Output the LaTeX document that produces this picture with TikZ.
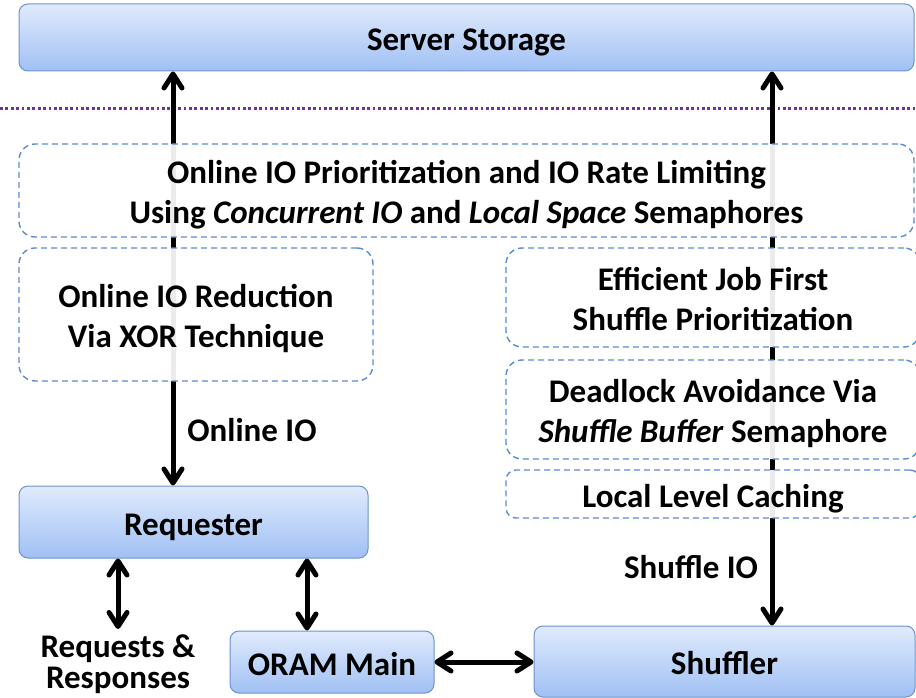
\documentclass[tikz,border=0pt]{standalone}
\usepackage{fontspec}
\setmainfont{Carlito}
\usetikzlibrary{arrows.meta}
\definecolor{boxtop}{HTML}{E0EBFC}
\definecolor{boxbot}{HTML}{A0C0F4}
\definecolor{boxline}{HTML}{6E93CC}
\definecolor{dashline}{HTML}{5B8BD0}
\definecolor{sep}{HTML}{7030A0}
% one text line of fixed height, so every line sits at the same place in its box
\newcommand\tline[1]{\rule{0pt}{26pt}\smash{#1}}
\tikzset{
  solidbox/.style={draw=boxline, line width=1pt, rounded corners=9pt,
    top color=boxtop, bottom color=boxbot, inner sep=0pt, align=center,
    font=\fontsize{33}{40}\selectfont\bfseries},
  dashbox/.style={draw=dashline, line width=1.4pt, dash pattern=on 6pt off 4pt,
    rounded corners=16pt, fill=white, fill opacity=0.92, text opacity=1,
    inner sep=0pt, align=center, font=\fontsize{33}{40}\selectfont\bfseries},
  lbl/.style={align=center, inner sep=0pt, font=\fontsize{33}{31}\selectfont\bfseries},
  conn/.style={line width=5pt, line cap=round,
    {Straight Barb[length=14pt,width=18pt,line cap=round,line join=round]}-{Straight Barb[length=14pt,width=18pt,line cap=round,line join=round]}}
}
\begin{document}
\begin{tikzpicture}[x=1pt,y=-1pt]
\path[use as bounding box] (0,0) rectangle (916,698);
\clip (0,0) rectangle (916,698);

% components
\node[solidbox, minimum width=895pt, minimum height=67pt] (server) at (466.5,37.5) {\tline{Server Storage}};
\node[solidbox, minimum width=349pt, minimum height=72pt] (req) at (193.5,522) {\tline{Requester}};
\node[solidbox, minimum width=204pt, minimum height=62pt] (oram) at (332,662) {\tline{ORAM Main}};
\node[solidbox, minimum width=381pt, minimum height=71pt] (shuf) at (724.5,661.5) {\tline{Shuffler}};

% trust boundary
\coordinate (sepL) at (0,109);
\coordinate (sepR) at (916,109);
\draw[sep, line width=3pt, dash pattern=on 2.8pt off 2.6pt] (sepL) -- (sepR);

% IO paths
\coordinate (onlinex) at (173,0);
\coordinate (shufx) at (772,0);
\coordinate (clientx) at (118,0);
\coordinate (oramx) at (307,0);
\draw[conn] (req.north -| onlinex) -- (server.south -| onlinex);
\draw[conn] (shuf.north -| shufx) -- (server.south -| shufx);
\node[lbl] (onlinelbl) at (252,430) {Online IO};
\node[lbl] (shuflbl) at (691,567) {Shuffle IO};

% techniques layered over the IO paths
\node[dashbox, minimum width=895pt, minimum height=93pt] (prio) at (466.5,190.5)
  {\tline{Online IO Prioritization and IO Rate Limiting}\\\tline{Using \textit{Concurrent IO} and \textit{Local Space} Semaphores}};
\node[dashbox, minimum width=354pt, minimum height=133pt] (xor) at (196,314.5)
  {\tline{Online IO Reduction}\\\tline{Via XOR Technique}};
\node[dashbox, minimum width=414pt, minimum height=99pt] (ejf) at (713,297.5)
  {\tline{Efficient Job First}\\\tline{Shuffle Prioritization}};
\node[dashbox, minimum width=414pt, minimum height=99pt] (dead) at (713,409.5)
  {\tline{Deadlock Avoidance Via}\\\tline{\textit{Shuffle Buffer} Semaphore}};
\node[dashbox, minimum width=414pt, minimum height=48pt, rounded corners=10pt] (cache) at (713,494)
  {\tline{Local Level Caching}};

% client side
\node[lbl] (client) at (118,664) {Requests \&\\Responses};
\coordinate (clienttop) at (118,629);
\draw[conn] (req.south -| clientx) -- (clienttop);
\draw[conn] (req.south -| oramx) -- (oram.north -| oramx);
\draw[conn] (oram.east) -- (shuf.west |- oram.east);
\end{tikzpicture}
\end{document}
